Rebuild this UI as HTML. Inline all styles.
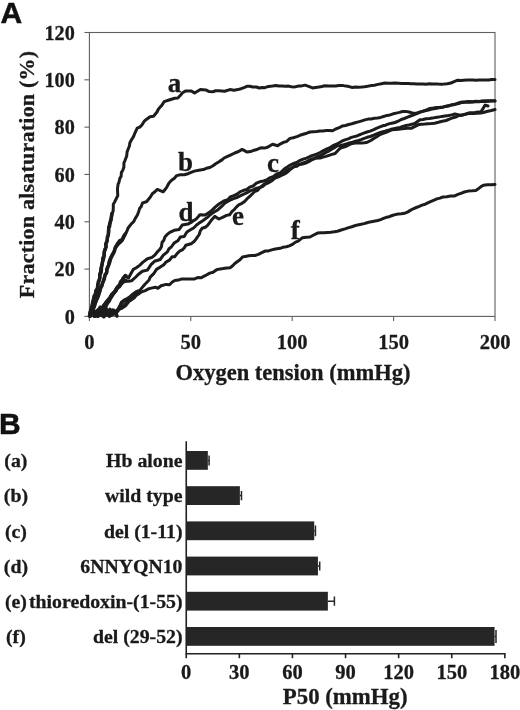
<!DOCTYPE html>
<html><head><meta charset="utf-8"><title>Figure</title>
<style>html,body{margin:0;padding:0;background:#fff}svg{display:block}</style>
</head><body>
<svg width="520" height="710" viewBox="0 0 520 710">
<rect width="520" height="710" fill="#fff"/>
<g stroke="#606060" stroke-width="1.1" fill="none">
<rect x="89.4" y="32.5" width="405.6" height="283.9"/>
<line x1="84.4" y1="316.40" x2="89.4" y2="316.40"/>
<line x1="84.4" y1="269.08" x2="89.4" y2="269.08"/>
<line x1="84.4" y1="221.77" x2="89.4" y2="221.77"/>
<line x1="84.4" y1="174.45" x2="89.4" y2="174.45"/>
<line x1="84.4" y1="127.13" x2="89.4" y2="127.13"/>
<line x1="84.4" y1="79.82" x2="89.4" y2="79.82"/>
<line x1="84.4" y1="32.50" x2="89.4" y2="32.50"/>
<line x1="89.40" y1="316.4" x2="89.40" y2="320.9"/>
<line x1="190.80" y1="316.4" x2="190.80" y2="320.9"/>
<line x1="292.20" y1="316.4" x2="292.20" y2="320.9"/>
<line x1="393.60" y1="316.4" x2="393.60" y2="320.9"/>
<line x1="495.00" y1="316.4" x2="495.00" y2="320.9"/>
</g>
<g stroke="#1c1c1c" stroke-width="3.0" fill="none" stroke-linejoin="round" stroke-linecap="round">
<path d="M89.5,316.0 L90.1,311.9 L91.4,308.5 L92.1,305.9 L92.3,303.0 L93.1,299.8 L93.9,296.0 L95.3,294.8 L95.7,290.3 L97.2,288.8 L98.0,284.3 L99.4,280.2 L100.0,277.5 L99.6,273.8 L100.4,272.3 L100.8,268.4 L102.1,264.7 L102.6,260.8 L102.6,258.1 L104.1,255.5 L104.3,252.7 L105.1,248.9 L106.2,246.9 L105.9,243.7 L106.9,241.4 L107.7,237.1 L108.6,233.7 L108.3,232.3 L108.5,228.7 L108.9,226.1 L110.4,222.9 L111.1,219.4 L111.6,216.8 L112.1,213.3 L113.1,211.3 L113.3,207.4 L113.3,204.2 L114.8,201.7 L117.8,195.5 L117.6,192.7 L117.5,188.6 L118.1,184.1 L118.9,182.5 L119.9,178.1 L121.1,176.5 L121.4,172.3 L122.8,170.3 L123.9,167.1 L123.9,162.8 L124.9,160.8 L126.7,155.9 L127.1,151.9 L128.1,149.3 L129.5,145.7 L129.8,143.0 L131.5,139.8 L133.5,136.6 L135.0,132.8 L137.2,128.1 L139.8,127.1 L142.1,124.7 L143.9,121.7 L146.0,119.7 L150.0,116.7 L153.5,116.2 L157.0,112.0 L158.2,109.5 L159.9,107.3 L161.6,105.6 L164.1,101.7 L169.1,100.0 L174.7,98.2 L177.9,98.1 L180.2,95.6 L182.5,92.8 L185.4,91.1 L191.4,90.9 L194.5,93.0 L200.4,89.5 L205.8,89.9 L209.2,91.6 L212.8,91.7 L215.7,90.8 L219.0,90.8 L224.6,91.2 L229.9,89.6 L234.0,90.2 L237.8,89.6 L241.1,88.7 L244.0,87.6 L247.4,86.2 L249.7,86.2 L252.8,87.0 L256.3,87.0 L259.3,88.0 L262.3,87.5 L264.8,87.7 L268.5,86.4 L272.6,86.0 L275.9,85.6 L278.9,86.1 L281.6,86.1 L285.3,86.3 L288.5,86.1 L291.4,86.7 L294.9,86.9 L298.7,86.0 L301.6,85.9 L305.1,85.1 L308.6,86.3 L312.6,87.9 L315.5,87.5 L318.9,87.0 L321.8,86.5 L324.9,85.8 L328.6,86.0 L332.0,86.0 L335.5,85.9 L339.1,85.5 L342.4,85.4 L345.8,86.1 L349.1,86.6 L352.4,87.5 L355.5,87.1 L358.5,87.2 L361.5,87.0 L364.5,86.7 L367.5,86.3 L371.0,85.6 L374.4,85.2 L377.9,84.4 L381.6,83.7 L384.9,83.0 L388.3,83.2 L391.5,83.2 L394.9,83.1 L398.4,83.3 L401.7,83.5 L405.1,83.5 L408.0,83.6 L411.0,83.8 L414.0,83.8 L417.0,84.1 L420.1,84.1 L423.1,83.9 L426.1,84.2 L429.2,83.8 L432.0,84.0 L435.0,83.9 L438.1,84.1 L441.3,84.2 L444.2,84.1 L447.3,83.8 L450.9,83.0 L454.1,81.7 L457.7,80.2 L460.9,80.4 L463.7,80.2 L466.9,80.1 L469.8,80.1 L473.0,80.0 L476.0,80.2 L479.0,80.0 L482.4,80.0 L485.4,80.1 L488.8,80.0 L491.7,79.5 L495.0,79.5"/>
<path d="M90.5,316.0 L91.0,313.4 L92.6,308.6 L94.0,307.2 L95.8,302.4 L95.9,301.0 L97.7,297.5 L98.1,292.9 L100.1,290.8 L100.3,289.1 L102.2,285.7 L102.6,282.9 L103.7,279.9 L105.2,275.4 L106.4,273.5 L107.0,268.4 L108.3,265.4 L108.9,261.9 L110.1,258.7 L111.6,255.6 L114.0,251.6 L115.3,247.3 L117.8,242.8 L119.6,240.5 L122.3,239.4 L123.3,236.5 L126.0,233.0 L127.2,230.4 L128.1,228.0 L131.3,223.8 L133.7,221.7 L135.3,218.4 L137.4,215.0 L138.7,211.4 L139.7,208.3 L141.1,206.7 L142.6,202.9 L146.5,201.7 L150.4,197.0 L152.3,193.8 L154.9,191.8 L157.3,189.4 L163.2,191.8 L165.9,188.5 L167.0,186.7 L169.0,183.0 L171.3,180.5 L174.4,178.2 L176.7,175.6 L180.3,174.8 L184.2,174.8 L188.0,173.7 L191.1,172.3 L194.3,171.1 L200.2,170.0 L203.4,169.6 L206.3,168.3 L209.9,167.5 L213.0,165.8 L215.7,163.8 L219.5,161.4 L222.0,159.9 L224.1,158.0 L227.0,156.7 L231.0,154.8 L234.7,153.0 L238.6,151.5 L242.1,149.4 L247.2,152.1 L250.5,151.6 L254.2,150.2 L257.6,149.2 L260.8,147.8 L264.4,148.1 L267.5,147.3 L272.6,144.2 L277.7,145.7 L280.1,144.1 L283.5,142.3 L286.4,141.6 L290.0,138.4 L293.3,137.7 L296.9,136.6 L300.0,135.3 L303.2,134.3 L306.7,133.2 L310.0,132.0 L313.2,131.7 L316.7,131.5 L320.1,130.9 L323.1,130.9 L326.2,130.6 L329.5,130.5 L332.6,130.7 L335.7,129.0 L339.3,127.7 L342.5,125.9 L345.5,125.5 L348.7,124.5 L351.8,123.8 L355.1,122.8 L358.4,121.9 L361.8,120.9 L364.9,119.9 L368.1,119.1 L371.1,118.9 L374.4,118.3 L377.4,117.9 L380.6,117.4 L383.6,116.5 L387.0,115.4 L390.1,114.9 L393.2,113.8 L396.2,113.1 L399.5,112.4 L402.5,111.5 L405.7,111.4 L408.9,112.0 L412.4,112.9 L415.9,113.5 L419.5,112.1 L423.0,111.2 L426.6,109.8 L430.0,108.5 L433.3,108.0 L436.5,107.4 L439.7,107.2 L442.9,106.9 L445.9,106.3 L449.4,105.4 L452.5,104.6 L455.7,103.9 L459.2,102.8 L462.3,101.9 L465.7,101.8 L469.1,101.5 L472.5,101.8 L476.0,101.3 L479.3,101.5 L482.3,101.0 L485.4,100.8 L488.6,100.7 L491.8,100.7 L495.0,100.7"/>
<path d="M94.5,316.0 L96.6,312.9 L98.9,312.8 L100.4,308.1 L101.8,308.6 L103.4,305.2 L106.7,301.6 L108.0,300.3 L110.5,296.8 L111.5,294.4 L113.6,292.4 L116.3,290.8 L118.0,286.4 L118.5,285.5 L121.4,282.4 L122.6,278.8 L124.8,276.0 L128.5,277.9 L131.8,272.0 L133.3,269.4 L136.3,267.8 L139.9,265.1 L142.7,262.4 L147.5,258.8 L152.0,257.4 L154.7,255.2 L157.7,251.5 L159.6,249.6 L161.4,246.9 L162.1,242.2 L163.8,240.4 L164.9,237.0 L167.6,234.1 L169.8,232.4 L174.2,230.3 L179.2,229.4 L182.2,225.1 L188.0,224.1 L192.3,221.6 L196.2,219.1 L199.9,214.7 L205.1,214.9 L209.8,211.9 L212.4,209.9 L215.1,207.1 L219.0,204.0 L223.8,200.9 L227.8,199.8 L230.2,196.9 L233.1,195.9 L236.5,194.5 L240.0,191.9 L243.1,190.5 L246.8,189.5 L249.7,187.1 L253.1,186.0 L256.4,183.2 L259.7,181.8 L263.6,181.0 L266.8,179.8 L270.3,177.6 L273.1,176.7 L276.8,174.0 L280.1,172.8 L282.4,170.9 L284.8,168.6 L287.3,167.1 L290.3,165.0 L293.7,163.4 L296.6,162.5 L300.1,160.4 L303.2,159.1 L306.6,158.1 L309.9,156.5 L313.5,155.1 L316.6,154.1 L320.1,152.5 L323.0,150.8 L326.4,149.2 L329.4,147.9 L332.5,145.9 L335.8,144.5 L338.7,143.0 L341.8,141.2 L344.9,139.9 L348.2,138.8 L351.4,137.4 L354.3,136.6 L357.6,135.7 L360.6,134.3 L363.7,133.2 L367.0,132.0 L370.1,131.1 L373.2,129.9 L376.3,128.4 L379.3,127.2 L382.6,125.8 L385.5,125.2 L388.7,123.9 L391.7,123.2 L394.9,122.5 L398.2,121.2 L401.2,119.5 L404.3,118.5 L407.6,117.2 L410.5,116.0 L413.8,114.8 L416.9,113.7 L420.0,112.1 L423.2,111.3 L426.3,110.6 L429.4,109.7 L432.4,108.9 L435.5,108.6 L438.8,107.8 L441.8,107.6 L445.0,106.6 L448.5,106.0 L451.9,104.9 L455.2,104.4 L458.7,103.6 L461.9,102.4 L465.4,102.2 L469.1,102.2 L472.6,101.9 L476.1,101.8 L479.1,101.8 L482.5,101.3 L485.5,101.5 L488.6,101.2 L491.7,101.0 L495.0,101.0"/>
<path d="M95.5,316.0 L97.1,311.2 L99.2,313.3 L100.3,308.6 L103.3,309.7 L104.7,306.3 L107.4,303.6 L108.4,299.8 L110.8,298.1 L113.4,293.9 L114.8,292.1 L117.4,288.0 L119.3,287.2 L121.4,283.8 L123.5,281.0 L128.5,281.2 L131.8,280.7 L135.8,277.0 L138.2,274.5 L142.4,271.2 L147.4,270.1 L151.2,264.4 L154.5,261.3 L160.2,259.5 L163.3,255.2 L167.4,251.9 L169.0,248.7 L171.3,247.0 L174.0,243.1 L177.8,240.8 L180.3,237.1 L184.2,236.5 L186.9,232.0 L190.5,229.8 L193.6,228.0 L196.6,225.0 L199.7,222.6 L202.4,221.0 L207.7,217.1 L209.8,215.2 L212.5,213.0 L217.2,210.3 L221.4,206.7 L224.7,203.2 L230.2,200.0 L233.6,198.6 L236.7,197.6 L240.1,195.8 L243.3,194.4 L246.6,192.9 L250.0,190.9 L253.0,189.8 L256.7,188.1 L260.2,187.4 L263.3,184.8 L266.6,182.7 L269.7,181.2 L273.0,179.2 L276.7,176.7 L280.1,174.7 L283.5,173.5 L286.7,170.6 L290.0,168.9 L293.7,166.9 L296.9,166.3 L300.1,164.1 L303.2,162.9 L306.7,161.6 L310.1,159.8 L313.4,158.8 L316.5,157.2 L320.1,155.7 L323.0,154.1 L325.9,152.4 L328.8,151.1 L331.6,149.2 L334.6,147.6 L337.4,145.8 L340.4,145.5 L343.6,144.7 L346.4,143.9 L349.4,143.0 L352.5,142.2 L355.5,141.3 L358.4,140.5 L361.1,139.6 L364.2,138.4 L367.2,137.3 L370.1,136.5 L373.0,135.5 L376.0,134.1 L379.1,133.0 L382.1,132.0 L385.0,131.2 L388.0,130.3 L390.9,129.3 L393.9,128.6 L397.0,128.0 L400.0,127.4 L402.9,126.4 L406.0,125.5 L408.9,124.9 L411.9,124.2 L414.9,123.5 L417.5,121.5 L420.0,119.7 L423.0,119.5 L426.2,118.7 L429.3,118.5 L432.6,118.1 L435.6,117.4 L438.6,117.1 L441.9,116.4 L445.0,116.0 L448.5,115.5 L451.6,114.9 L454.9,114.0 L458.0,114.6 L460.9,115.6 L464.9,114.3 L469.1,112.8 L471.9,112.8 L475.0,112.6 L478.1,112.1 L480.9,111.9 L482.9,108.7 L485.1,105.1 L488.0,106.0"/>
<path d="M97.0,315.5 L99.3,312.8 L103.4,314.9 L106.3,310.9 L108.6,313.6 L112.6,309.9 L115.3,314.1 L118.8,309.3 L120.6,305.3 L122.1,303.0 L124.2,300.6 L126.5,299.3 L130.5,297.0 L133.5,294.1 L136.0,292.0 L139.0,291.4 L141.5,288.4 L143.5,285.9 L144.7,284.5 L148.9,280.3 L150.2,277.1 L153.7,273.7 L156.5,269.4 L159.9,267.3 L163.8,264.7 L165.9,262.1 L169.5,260.1 L172.1,256.8 L174.6,256.8 L177.3,253.4 L179.5,251.2 L182.3,249.9 L184.4,247.8 L185.8,245.2 L191.1,243.7 L194.1,241.6 L195.8,239.4 L199.2,234.5 L200.3,230.9 L202.2,228.2 L205.3,227.2 L207.6,225.4 L211.3,220.3 L214.7,216.4 L218.9,219.0 L223.6,216.8 L226.5,215.4 L229.8,214.7 L231.9,211.7 L234.3,209.5 L236.3,207.1 L238.7,204.9 L242.0,203.3 L244.9,201.2 L247.5,198.3 L250.3,195.8 L252.7,193.5 L254.6,191.5 L257.7,190.4 L259.6,187.8 L262.5,186.5 L264.8,184.5 L268.2,182.9 L271.5,181.0 L274.8,178.1 L278.5,176.8 L281.4,175.3 L284.7,173.9 L287.6,172.0 L290.1,169.6 L292.4,167.8 L295.3,165.5 L298.6,164.6 L301.6,164.2 L305.1,163.4 L308.3,161.9 L311.6,159.9 L315.0,158.3 L320.1,158.1 L323.0,157.1 L325.9,156.4 L329.0,155.4 L331.9,154.4 L335.1,153.5 L337.4,151.0 L340.1,148.4 L343.0,147.2 L346.3,146.2 L349.3,144.6 L352.4,143.4 L355.5,143.1 L358.4,142.8 L361.6,142.9 L364.4,142.7 L367.4,142.2 L370.8,140.5 L373.8,138.5 L376.8,136.7 L379.9,134.6 L383.1,133.3 L386.2,132.4 L389.4,131.0 L392.5,129.7 L395.5,129.5 L398.7,129.2 L402.0,128.8 L405.0,128.6 L408.2,128.1 L411.6,128.2 L415.1,126.4 L418.6,124.6 L421.8,124.2 L424.9,124.1 L428.0,123.7 L431.5,123.6 L434.6,123.2 L438.4,122.3 L442.2,121.3 L446.1,120.5 L449.4,119.1 L453.1,117.7 L456.5,116.7 L459.9,115.2 L462.9,114.8 L466.1,114.1 L468.9,113.6 L472.9,113.5 L476.9,113.3 L480.9,113.0 L484.3,112.3 L487.8,111.3 L491.4,110.5 L495.0,109.5"/>
<path d="M98.0,316.0 L100.5,314.7 L103.8,314.9 L106.7,312.3 L109.3,315.3 L113.9,313.5 L116.3,311.4 L119.1,309.6 L122.6,307.1 L124.1,305.7 L128.8,300.8 L131.0,300.0 L134.1,297.7 L136.2,295.4 L138.5,293.9 L141.7,291.8 L145.3,290.6 L148.1,289.0 L151.3,288.1 L155.4,287.2 L157.9,288.3 L161.1,285.8 L166.2,284.4 L169.5,284.8 L172.3,282.0 L174.8,280.5 L178.3,280.1 L181.8,278.9 L185.5,279.1 L187.6,279.1 L191.7,279.0 L194.0,279.1 L197.6,277.6 L200.9,277.8 L205.1,275.7 L209.7,273.1 L213.1,272.2 L216.6,269.7 L220.3,268.9 L223.1,268.6 L226.7,268.0 L230.1,267.7 L232.7,265.7 L234.8,263.5 L237.5,261.5 L240.0,259.7 L242.5,257.0 L245.4,256.4 L248.7,255.8 L251.9,255.5 L255.0,255.5 L258.4,254.4 L261.3,252.9 L265.0,251.1 L268.5,250.9 L271.6,249.9 L275.3,249.0 L280.1,248.3 L282.8,247.3 L286.4,246.8 L289.3,245.9 L292.5,244.4 L295.5,242.1 L298.2,241.2 L302.5,237.7 L306.2,237.2 L310.0,237.0 L313.7,235.0 L317.5,233.1 L320.9,232.8 L324.3,232.7 L327.5,232.4 L330.8,232.3 L334.2,231.8 L337.4,231.2 L341.2,230.0 L345.0,228.9 L348.7,227.6 L351.9,226.7 L354.7,225.8 L357.7,224.9 L361.0,224.3 L364.0,223.6 L367.1,222.7 L370.0,221.9 L373.9,221.2 L377.8,220.5 L380.6,219.6 L383.5,218.4 L386.3,217.3 L389.3,216.7 L392.2,215.5 L395.1,214.6 L398.2,214.0 L401.3,213.7 L404.5,213.3 L407.5,212.1 L410.3,210.4 L413.2,208.8 L416.3,207.5 L419.3,206.3 L422.0,205.1 L425.2,204.2 L428.3,202.7 L431.1,201.4 L434.1,200.2 L436.9,198.9 L439.9,198.1 L442.9,197.0 L446.7,196.7 L450.6,196.0 L454.7,195.9 L457.9,194.4 L460.9,193.3 L464.3,192.0 L468.1,191.1 L472.0,190.8 L475.8,190.4 L478.3,188.8 L481.0,186.6 L483.4,185.3 L487.4,184.8 L491.1,184.8 L495.0,184.5"/>
</g>
<g stroke="#1c1c1c" fill="none" stroke-linejoin="round" stroke-linecap="round">
<path stroke-width="3.6" d="M89.5,316.0 L90.0,313.3 L91.2,308.8 L91.9,306.4 L92.8,303.3 L93.4,300.5 L94.4,297.2 L95.5,293.9 L96.1,291.5 L97.5,288.2 L97.9,284.2 L98.3,282.0 L99.7,278.5 L99.9,274.9 L101.2,272.0 L101.4,267.9 L101.8,265.6 L102.4,262.2 L103.3,259.4 L104.2,255.3 L104.1,252.1 L105.1,249.5 L106.0,247.1 L105.8,244.0 L107.1,241.1 L107.4,237.2 L108.2,235.1 L108.6,232.3 L108.8,228.0 L109.6,226.2 L109.8,223.2 L111.0,219.4 L111.4,216.8 L112.0,213.2"/>
<path stroke-width="3.6" d="M90.5,316.0 L91.7,312.3 L92.7,309.9 L94.4,306.2 L94.9,303.5 L96.7,299.6 L97.6,297.6 L99.0,294.0 L99.8,291.1 L100.6,287.5 L101.7,285.3 L103.0,282.1 L104.2,279.0 L105.0,275.0 L106.8,272.3 L106.9,269.5 L108.6,265.4 L109.6,262.5 L110.7,258.6 L111.5,256.9 L114.0,252.1 L115.4,247.7 L118.3,243.9 L120.4,242.1 L122.3,240.0 L125.0,234.5"/>
<path stroke-width="3.6" d="M94.5,316.0 L96.3,311.3 L98.2,312.5 L100.1,307.3 L102.1,309.6 L104.0,306.5 L106.4,301.8 L108.1,299.8 L109.6,298.2 L111.6,295.1 L113.9,293.2 L115.8,289.8 L117.5,287.0 L119.6,285.8 L120.6,281.8 L122.3,279.8 L125.4,275.6 L126.0,275.7"/>
<path stroke-width="3.6" d="M95.5,316.0 L97.8,310.3 L99.3,314.3 L101.1,309.8 L102.6,309.9 L105.2,307.7 L107.2,303.2 L109.1,301.2 L110.6,297.7 L112.9,294.2 L115.3,291.1 L117.2,287.9 L119.8,285.3 L121.9,283.2 L123.3,281.9 L126.0,280.6"/>
<path stroke-width="3.8" d="M97.0,315.5 L99.7,312.7 L103.4,315.6 L105.7,310.9 L108.6,315.2 L113.3,311.2 L115.5,313.2 L118.8,308.5 L120.4,305.3 L121.7,302.5 L124.0,300.6 L126.5,299.6 L129.8,297.4 L132.8,294.6 L136.6,292.2 L138.0,291.2"/>
<path stroke-width="3.8" d="M98.0,316.0 L100.7,313.5 L103.8,316.6 L106.6,313.3 L109.6,316.1 L114.2,312.5 L116.5,311.7 L119.3,308.5 L121.9,307.8 L125.0,305.7 L128.6,301.2 L131.8,298.8 L134.0,297.2 L134.0,297.3"/>
<path stroke-width="3.6" d="M94.0,316.0 L95.0,311.5 L97.0,314.0 L98.5,309.5 L100.0,313.0 L102.0,308.0 L104.0,312.5 L106.0,308.5 L108.0,313.0 L110.0,309.5 L112.0,313.5 L114.0,310.5 L116.0,314.0 L117.0,316.0"/>
<path stroke-width="4" d="M95.0,315.0 L99.0,312.5 L103.0,314.5 L107.0,312.0 L111.0,314.5 L115.0,313.0"/>
</g>
<g font-family="'Liberation Serif', 'Times New Roman', serif" font-weight="bold" fill="#1a1a1a" stroke="#1a1a1a" stroke-width="0.3">
<g font-size="20.2" text-anchor="end">
<text x="74.8" y="323.6">0</text>
<text x="74.8" y="276.3">20</text>
<text x="74.8" y="229.0">40</text>
<text x="74.8" y="181.6">60</text>
<text x="74.8" y="134.3">80</text>
<text x="74.8" y="87.0">100</text>
<text x="74.8" y="39.7">120</text>
</g>
<g font-size="20.5" text-anchor="middle">
<text x="89.4" y="349.4">0</text>
<text x="190.8" y="349.4">50</text>
<text x="292.2" y="349.4">100</text>
<text x="393.6" y="349.4">150</text>
<text x="495.0" y="349.4">200</text>
</g>
<text x="292.9" y="380.4" font-size="22.5" text-anchor="middle">Oxygen tension (mmHg)</text>
<text transform="translate(34.0,174.4) rotate(-90)" font-size="22" letter-spacing="0.22" text-anchor="middle">Fraction alsaturation (%)</text>
<text x="174.5" y="92" font-size="27" text-anchor="middle">a</text>
<text x="185.5" y="171" font-size="27" text-anchor="middle">b</text>
<text x="273" y="172" font-size="27" text-anchor="middle">c</text>
<text x="186" y="220.5" font-size="27" text-anchor="middle">d</text>
<text x="238" y="225" font-size="27" text-anchor="middle">e</text>
<text x="295.2" y="238.6" font-size="27" text-anchor="middle">f</text>
</g>
<g font-family="'Liberation Sans', Arial, sans-serif" font-weight="bold" fill="#111" stroke="#111" stroke-width="0.5" font-size="30">
<text x="0.6" y="22.8">A</text>
<text x="-1.0" y="434.0">B</text>
</g>
<g fill="#262626">
<rect x="186.25" y="451.00" width="21.59" height="18.8"/>
<rect x="186.25" y="486.20" width="53.63" height="18.8"/>
<rect x="186.25" y="521.40" width="127.97" height="18.8"/>
<rect x="186.25" y="556.60" width="131.69" height="18.8"/>
<rect x="186.25" y="591.80" width="141.60" height="18.8"/>
<rect x="186.25" y="627.00" width="308.33" height="18.8"/>
</g>
<g stroke="#262626" stroke-width="1.5" fill="none">
<path d="M207.84,460.40 H209.08 M209.08,455.40 V465.40"/>
<path d="M239.88,495.60 H241.47 M241.47,491.00 V500.20"/>
<path d="M314.22,530.80 H315.46 M315.46,525.40 V536.20"/>
<path d="M317.94,566.00 H319.71 M319.71,561.40 V570.60"/>
<path d="M327.85,601.20 H334.40 M334.40,596.60 V605.80"/>
<path d="M494.58,636.40 H496.00 M496.00,629.90 V642.90"/>
</g>
<g stroke="#222" stroke-width="1.6" fill="none">
<path d="M186.25,441.3 V653.8 H505.6"/>
<line x1="186.25" y1="653.8" x2="186.25" y2="658.2"/>
<line x1="239.35" y1="653.8" x2="239.35" y2="658.2"/>
<line x1="292.45" y1="653.8" x2="292.45" y2="658.2"/>
<line x1="345.55" y1="653.8" x2="345.55" y2="658.2"/>
<line x1="398.65" y1="653.8" x2="398.65" y2="658.2"/>
<line x1="451.75" y1="653.8" x2="451.75" y2="658.2"/>
<line x1="504.85" y1="653.8" x2="504.85" y2="658.2"/>
</g>
<g font-family="'Liberation Serif', 'Times New Roman', serif" font-weight="bold" fill="#1a1a1a" stroke="#1a1a1a" stroke-width="0.3">
<g font-size="20.5" text-anchor="middle">
<text x="186.2" y="679.3">0</text>
<text x="239.3" y="679.3">30</text>
<text x="292.4" y="679.3">60</text>
<text x="345.6" y="679.3">90</text>
<text x="398.6" y="679.3">120</text>
<text x="451.8" y="679.3">150</text>
<text x="504.9" y="679.3">180</text>
</g>
<text x="345.2" y="703.8" font-size="22.8" text-anchor="middle">P50 (mmHg)</text>
<g font-size="19.8">
<text x="182.5" y="467.2" text-anchor="end">Hb alone</text>
<text x="15.9" y="467.2" text-anchor="middle">(a)</text>
<text x="182.5" y="502.4" text-anchor="end">wild type</text>
<text x="15.9" y="502.4" text-anchor="middle">(b)</text>
<text x="182.5" y="537.6" text-anchor="end">del (1-11)</text>
<text x="15.9" y="537.6" text-anchor="middle">(c)</text>
<text x="182.5" y="572.8" text-anchor="end">6NNYQN10</text>
<text x="15.9" y="572.8" text-anchor="middle">(d)</text>
<text x="182.5" y="608.0" text-anchor="end">thioredoxin-(1-55)</text>
<text x="15.9" y="608.0" text-anchor="middle">(e)</text>
<text x="182.5" y="643.2" text-anchor="end">del (29-52)</text>
<text x="15.9" y="643.2" text-anchor="middle">(f)</text>
</g>
</g>
</svg>
</body></html>
